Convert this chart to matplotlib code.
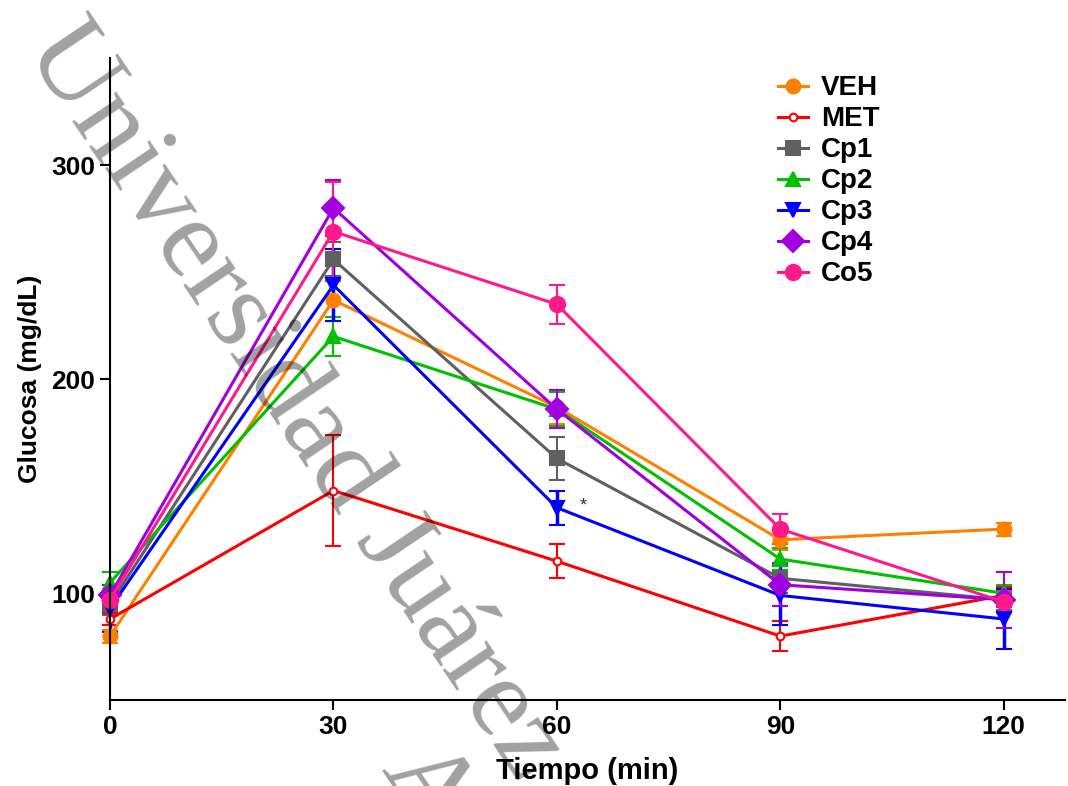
import matplotlib.pyplot as plt

plt.rcParams['font.family'] = ['Liberation Sans', 'DejaVu Sans']

# Data
tiempo = [0, 30, 60, 90, 120]
grupos = ["VEH", "MET", "Cp1", "Cp2", "Cp3", "Cp4", "Co5"]

veh = [80, 237, 187, 125, 130]
met = [88, 148, 115, 80, 99]
cp1 = [95, 256, 163, 107, 97]
cp2 = [105, 220, 186, 116, 100]
cp3 = [93, 244, 140, 99, 88]
cp4 = [99, 280, 186, 104, 97]
co5 = [97, 269, 235, 130, 96]

veh_err = [3, 10, 8, 5, 3]
met_err = [3, 26, 8, 7, 4]
cp1_err = [5, 8, 10, 7, 5]
cp2_err = [5, 9, 8, 5, 4]
cp3_err = [11, 17, 8, 14, 14]
cp4_err = [5, 13, 9, 10, 13]
co5_err = [5, 23, 9, 7, 5]

series = [veh, met, cp1, cp2, cp3, cp4, co5]
errores = [veh_err, met_err, cp1_err, cp2_err, cp3_err, cp4_err, co5_err]
colores = ["#ff8000", "#ff0000", "#606060", "#00c000", "#0000ff", "#a000e0", "#ff1a8c"]
marcadores = ["o", "o", "s", "^", "v", "D", "o"]
tamanos = [10, 5.5, 10.5, 10.5, 10.5, 11, 11]
grosor_err = [1.5, 1.5, 1.5, 1.5, 2.5, 1.5, 1.5]

fig = plt.figure(figsize=(10.68, 7.86), dpi=100)
ax = fig.add_axes([0.103, 0.109, 0.894, 0.817])

for nombre, y, e, c, m, s, ge in zip(grupos, series, errores, colores, marcadores,
                                     tamanos, grosor_err):
    face = "white" if nombre == "MET" else c
    ax.errorbar(tiempo, y, yerr=e, color=c, marker=m, markersize=s,
                markerfacecolor=face, markeredgecolor=c, markeredgewidth=1.5,
                linewidth=2.2, capsize=6, elinewidth=ge, capthick=ge,
                label=nombre, clip_on=False)

ax.text(63.5, 141, "*", fontsize=13, color="#333333", ha="center", va="center")

ax.set_xlim(0, 128.2)
ax.set_ylim(50, 350)
ax.set_xticks(tiempo)
ax.set_yticks([100, 200, 300])
ax.spines["top"].set_visible(False)
ax.spines["right"].set_visible(False)
ax.spines["left"].set_linewidth(1.5)
ax.spines["bottom"].set_linewidth(1.5)
ax.tick_params(width=1.5, length=7, labelsize=19)
for lbl in ax.get_xticklabels() + ax.get_yticklabels():
    lbl.set_fontweight("bold")
ax.set_xlabel("Tiempo (min)", fontsize=21, fontweight="bold", labelpad=13)
ax.set_ylabel("Glucosa (mg/dL)", fontsize=19, fontweight="bold", labelpad=7)

handles, labels = ax.get_legend_handles_labels()
handles = [h[0] for h in handles]
leg = ax.legend(handles, labels, loc="upper left", bbox_to_anchor=(0.705, 0.936),
                bbox_transform=fig.transFigure, frameon=False, fontsize=20,
                handlelength=1.1, labelspacing=0.18, handletextpad=0.45)
for t in leg.get_texts():
    t.set_fontweight("bold")

# watermark (two lines, second one mostly outside the canvas)
fig.text(47 / 1068, 1 - 34 / 786, "Universidad Juárez", fontsize=83,
         family="Liberation Serif", color="black", alpha=0.37, rotation=-56,
         rotation_mode="anchor", ha="left", va="center", zorder=10)
fig.text(404 / 1068, 1 - 754 / 786, "Autónoma de Tabasco", fontsize=83,
         family="Liberation Serif", color="black", alpha=0.37, rotation=-56,
         rotation_mode="anchor", ha="left", va="center", zorder=10)

fig.savefig("out.png", dpi=100)
